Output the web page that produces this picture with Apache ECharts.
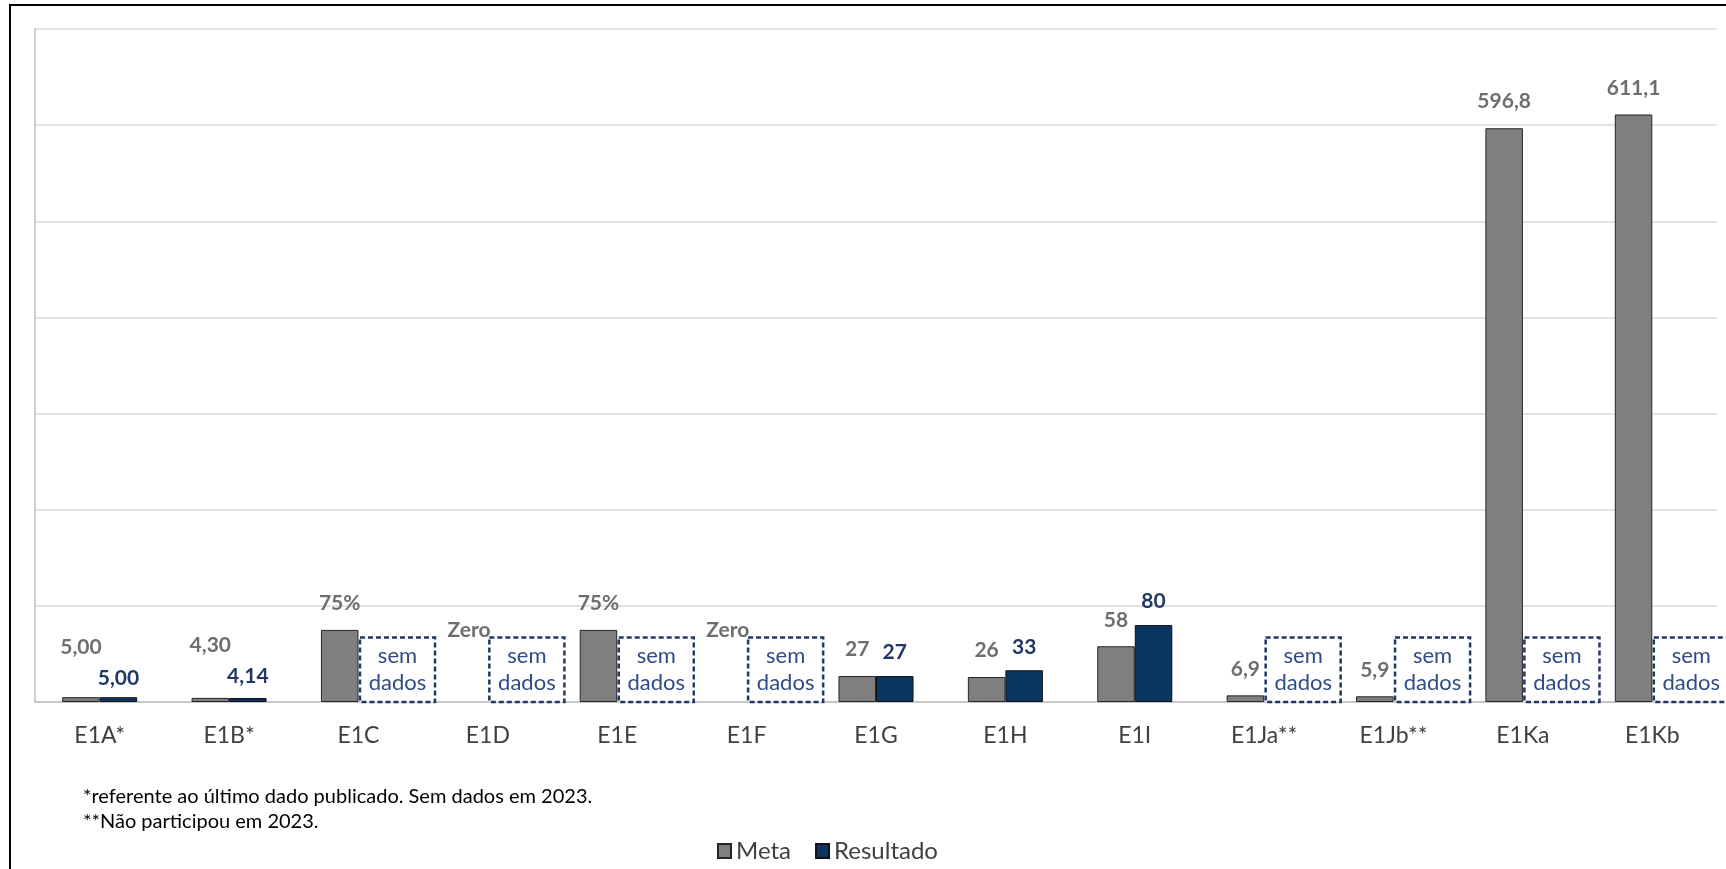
<!DOCTYPE html>
<html>
<head>
<meta charset="utf-8">
<script src="https://cdn.jsdelivr.net/npm/echarts@6/dist/echarts.min.js"></script>
<style>
  html, body { margin: 0; padding: 0; background: #fff; }
  #chart { width: 1726px; height: 869px; }
</style>
</head>
<body>
<div id="chart"></div>
<script>
// categorias e valores
const categorias = ["E1A*", "E1B*", "E1C", "E1D", "E1E", "E1F", "E1G", "E1H", "E1I", "E1Ja**", "E1Jb**", "E1Ka", "E1Kb"];
const meta = [5.0, 4.3, 75, 0, 75, 0, 27, 26, 58, 6.9, 5.9, 596.8, 611.1];
const resultado = [5.0, 4.14, null, null, null, null, 27, 33, 80, null, null, null, null];
const metaTexto = ["5,00", "4,30", "75%", "Zero", "75%", "Zero", "27", "26", "58", "6,9", "5,9", "596,8", "611,1"];
const resultadoTexto = ["5,00", "4,14", "", "", "", "", "27", "33", "80", "", "", "", ""];
const notas = ["*referente ao último dado publicado. Sem dados em 2023.", "**Não participou em 2023."];

// posicionamento dos rótulos (ajuste manual, como no original)
const metaLabelGap = [39, 42, 16, 61, 16, 61, 16, 16, 16, 16, 16, 16, 16];
const resLabelGap = [8, 11, 13, 13, 13, 13, 13, 13, 13, 13, 13, 13, 13];
const SEM_DADOS_ALTURA = 67; // altura da caixa "sem dados" em unidades do eixo

const FONT = "Lato, 'Open Sans', sans-serif";
const CINZA = "#7f7f7f";
const AZUL = "#0c3662";

const chart = echarts.init(document.getElementById("chart"));

const semDados = resultado
  .map((v, i) => (v === null ? [i, SEM_DADOS_ALTURA] : null))
  .filter((d) => d !== null);

const option = {
  animation: false,
  textStyle: { fontFamily: FONT },
  grid: { left: 35, right: 9, top: 29, bottom: 167 },
  legend: {
    left: 712,
    top: 834,
    itemWidth: 13,
    itemHeight: 14,
    itemGap: 24,
    icon: "rect",
    data: ["Meta", "Resultado"],
    textStyle: { fontSize: 24, color: "#404040", fontFamily: FONT },
  },
  xAxis: {
    type: "category",
    data: categorias,
    axisTick: { show: false },
    axisLine: { lineStyle: { color: "#bfbfbf", width: 1.5 } },
    axisLabel: { fontSize: 23, color: "#404040", margin: 22, fontFamily: FONT },
  },
  yAxis: {
    type: "value",
    min: 0,
    max: 700,
    interval: 100,
    axisLabel: { show: false },
    axisTick: { show: false },
    axisLine: { show: true, lineStyle: { color: "#bfbfbf", width: 1.5 } },
    splitLine: { lineStyle: { color: "#d9d9d9", width: 1.5 } },
  },
  graphic: [
    {
      type: "rect",
      silent: true,
      shape: { x: 10, y: 5, width: 1800, height: 1000 },
      style: { fill: "none", stroke: "#000", lineWidth: 2 },
    },
    {
      type: "text",
      left: 83,
      top: 787,
      style: { text: notas[0], fontSize: 20, fill: "#000", fontFamily: FONT },
    },
    {
      type: "text",
      left: 83,
      top: 812,
      style: { text: notas[1], fontSize: 20, fill: "#000", fontFamily: FONT },
    },
  ],
  series: [
    {
      name: "Meta",
      type: "bar",
      barGap: "0%",
      barCategoryGap: "42%",
      itemStyle: { color: CINZA, borderColor: "#262626", borderWidth: 1 },
      label: {
        show: true,
        position: "top",
        color: "#6e6e6e",
        fontWeight: "bold",
        fontSize: 21,
        fontFamily: FONT,
      },
      data: meta.map((v, i) => ({
        value: v,
        itemStyle: v === 0 ? { borderWidth: 0 } : undefined,
        label: { formatter: metaTexto[i], distance: metaLabelGap[i], fontWeight: "bold" },
      })),
    },
    {
      name: "Resultado",
      type: "bar",
      barGap: "0%",
      barCategoryGap: "42%",
      itemStyle: { color: AZUL, borderColor: "#111", borderWidth: 1 },
      label: {
        show: true,
        position: "top",
        color: "#1f3864",
        fontWeight: "bold",
        fontSize: 21,
        fontFamily: FONT,
      },
      data: resultado.map((v, i) =>
        v === null
          ? null
          : { value: v, label: { formatter: resultadoTexto[i], distance: resLabelGap[i] } }
      ),
    },
    {
      name: "sem dados",
      type: "custom",
      clip: false,
      silent: true,
      data: semDados,
      renderItem: (params, api) => {
        const idx = api.value(0);
        const base = api.coord([idx, 0]);
        const topo = api.coord([idx, api.value(1)]);
        const banda = api.size([1, 0])[0];
        const bw = banda * 0.29;
        const x = base[0] + 1.5;
        return {
          type: "group",
          children: [
            {
              type: "rect",
              shape: { x: x, y: topo[1], width: 2 * bw, height: base[1] - topo[1] },
              style: { fill: "#fff", stroke: "#1f3864", lineWidth: 2.5, lineDash: [5, 3] },
            },
            {
              type: "text",
              style: {
                text: "sem\ndados",
                x: x + bw,
                y: (topo[1] + base[1]) / 2,
                align: "center",
                verticalAlign: "middle",
                fill: "#2f4b85",
                fontSize: 22,
                lineHeight: 27,
                fontFamily: FONT,
              },
            },
          ],
        };
      },
    },
  ],
};

chart.setOption(option);
</script>
</body>
</html>
